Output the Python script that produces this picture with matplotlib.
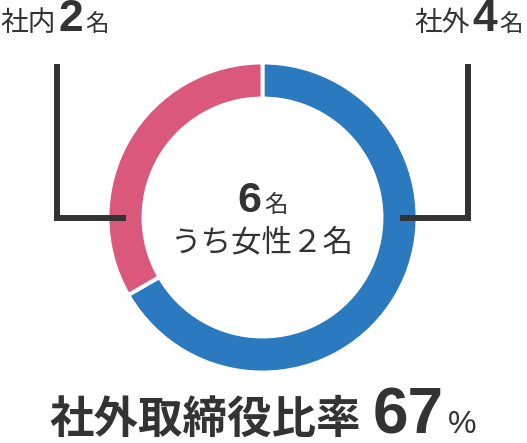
import matplotlib.pyplot as plt

plt.rcParams['font.family'] = ['Noto Sans CJK JP', 'DejaVu Sans']

# data
labels = ['社外', '社内']
counts = [4, 2]
colors = ['#2b79be', '#d9587b']
unit = '名'
women = 2
ratio = round(counts[0] / sum(counts) * 100)

TXT = '#333333'
NUM = ['Liberation Sans', 'DejaVu Sans']
W, H = 527, 443

fig = plt.figure(figsize=(W / 100, H / 100), dpi=100)
ax = fig.add_axes([0, 0, 1, 1])

cx, cy, r, ring = 262.5, H - 217.5, 155, 36
ax.pie(counts, colors=colors, startangle=90, counterclock=False,
       center=(cx, cy), radius=r,
       wedgeprops=dict(width=ring, edgecolor='white', linewidth=2.8))
ax.set_xlim(0, W)
ax.set_ylim(0, H)
ax.set_aspect('auto')
ax.axis('off')

renderer = fig.canvas.get_renderer()


def chain(x, y, parts, ha='left'):
    # parts: (text, size, weight, family or None, gap) drawn one after another
    objs = []
    cur = x
    for s, size, weight, fam, gap in parts:
        cur += gap
        kw = {'family': fam} if fam else {}
        t = ax.text(cur, y, s, fontsize=size, fontweight=weight, color=TXT,
                    ha='left', va='baseline', **kw)
        cur = t.get_window_extent(renderer).x1
        objs.append(t)
    if ha != 'left':
        width = cur - x
        shift = width / 2 if ha == 'center' else width
        for t in objs:
            px, py = t.get_position()
            t.set_position((px - shift, py))
    return objs


# side labels
chain(0, H - 31, [(labels[1], 20, 'normal', None, 0),
                  (str(counts[1]), 32, 'bold', NUM, 3),
                  (unit, 17, 'normal', None, 2)])
chain(W - 4, H - 31, [(labels[0], 20, 'normal', None, 0),
                      (str(counts[0]), 32, 'bold', NUM, 3),
                      (unit, 17, 'normal', None, 2)], ha='right')

# connector lines
mid = r - ring / 2
ax.plot([57, 57, cx - mid], [H - 64, cy, cy], color=TXT, lw=4.3,
        solid_joinstyle='miter', solid_capstyle='butt')
ax.plot([468, 468, cx + mid], [H - 64, cy, cy], color=TXT, lw=4.3,
        solid_joinstyle='miter', solid_capstyle='butt')

# centre
chain(cx, H - 212, [(str(sum(counts)), 31, 'bold', NUM, 0),
                    (unit, 17, 'normal', None, 3)], ha='center')
ax.text(cx, H - 251, 'うち女性' + chr(0xFF10 + women) + unit, fontsize=22,
        color=TXT, ha='center', va='baseline')

# bottom
chain(cx, 10, [('社外取締役比率', 32, 'bold', None, 0),
               (str(ratio), 46, 'bold', NUM, 12),
               ('%', 23, 'normal', NUM, 4)], ha='center')

fig.savefig('out.png', dpi=100)
